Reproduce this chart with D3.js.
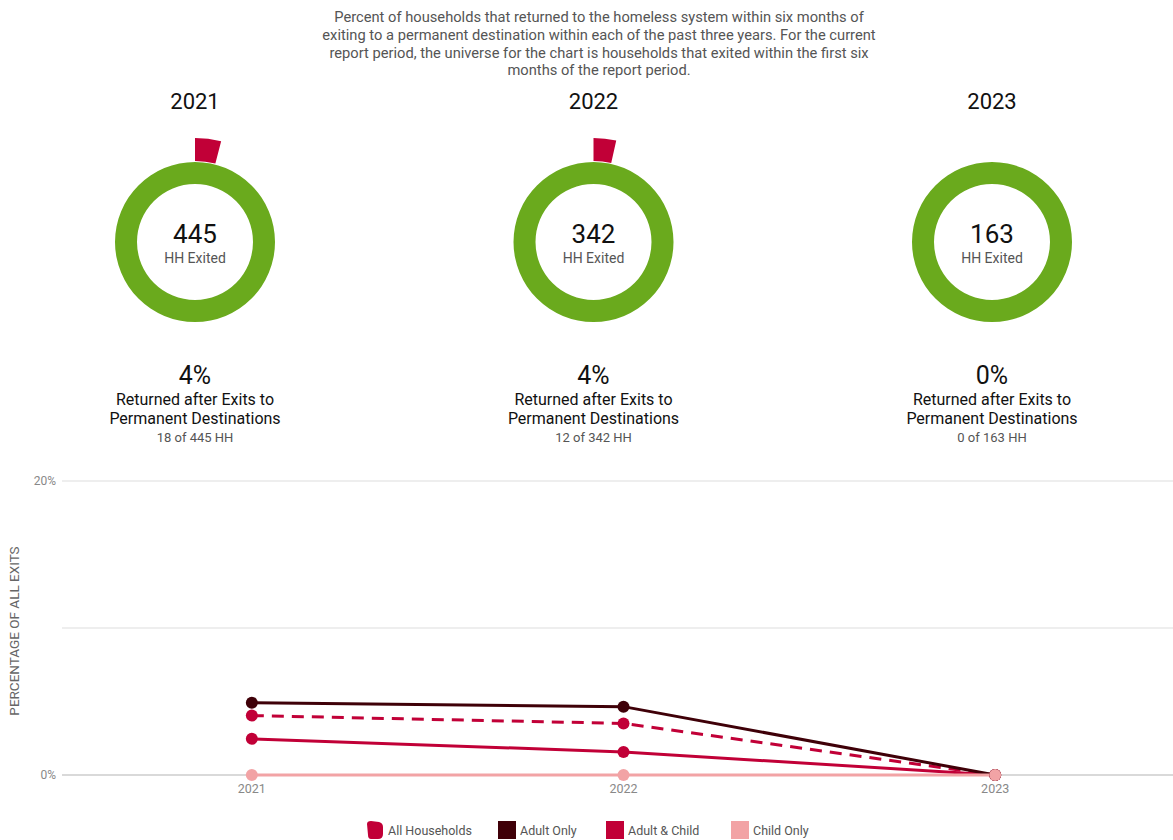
<!DOCTYPE html>
<html>
<head>
<meta charset="utf-8">
<script src="https://cdn.jsdelivr.net/npm/d3@7"></script>
<style>
  body { margin: 0; background: #fff; font-family: Roboto, "Noto Sans", sans-serif; }
  svg { display: block; }
</style>
</head>
<body>
<svg id="chart"></svg>
<script>
// data
var years = ["2021", "2022", "2023"];
var exited = [445, 342, 163];
var returned = [18, 12, 0];

var seriesNames = ["All Households", "Adult Only", "Adult & Child", "Child Only"];
var allHouseholds = [4.04, 3.51, 0];
var adultOnly = [4.92, 4.65, 0];
var adultChild = [2.46, 1.57, 0];
var childOnly = [0, 0, 0];
var yTicks = [0, 10, 20];

var width = 1173;
var height = 840;

var GREEN = "#6aaa1d";
var RED = "#c10037";
var DARK = "#3f0008";
var PINK = "#f2a3a5";

var svg = d3.select('#chart').attr('width', width).attr('height', height);

// description
var desc = [
  "Percent of households that returned to the homeless system within six months of",
  "exiting to a permanent destination within each of the past three years. For the current",
  "report period, the universe for the chart is households that exited within the first six",
  "months of the report period."
];
svg.append('g').selectAll('text').data(desc).enter().append('text')
  .attr('x', 599)
  .attr('y', function(d, i){ return 22 + i * 17.8; })
  .attr('text-anchor', 'middle')
  .attr('font-size', 14.7)
  .attr('fill', '#555')
  .text(function(d){ return d; });

// donuts
var cx = d3.scalePoint().domain(years).range([195, 992]);
var ringArc = d3.arc().innerRadius(58).outerRadius(80).startAngle(0).endAngle(2 * Math.PI);
var popArc = d3.arc().innerRadius(81).outerRadius(104);

svg.append('g').selectAll('g').data(years).enter().append('g')
  .each(function(y, i){
    var g = d3.select(this);
    var x = cx(y);

    g.append('text').attr('x', x).attr('y', 109).attr('text-anchor', 'middle')
      .attr('font-size', 22).attr('fill', '#111').text(y);

    var c = g.append('g').attr('transform', 'translate(' + x + ',242)');
    c.append('path').attr('d', ringArc()).attr('fill', GREEN);
    if (returned[i] > 0) {
      c.append('path')
        .attr('d', popArc({startAngle: 0, endAngle: 2 * Math.PI * returned[i] / exited[i]}))
        .attr('fill', RED);
    }
    c.append('text').attr('y', 1).attr('text-anchor', 'middle')
      .attr('font-size', 26).attr('fill', '#111').text(exited[i]);
    c.append('text').attr('y', 21).attr('text-anchor', 'middle')
      .attr('font-size', 14).attr('fill', '#555').text('HH Exited');

    var pct = Math.round(returned[i] / exited[i] * 100);
    g.append('text').attr('x', x).attr('y', 384).attr('text-anchor', 'middle')
      .attr('font-size', 25).attr('fill', '#111').text(pct + '%');
    g.append('text').attr('x', x).attr('y', 405).attr('text-anchor', 'middle')
      .attr('font-size', 16).attr('fill', '#111').text('Returned after Exits to');
    g.append('text').attr('x', x).attr('y', 424).attr('text-anchor', 'middle')
      .attr('font-size', 16).attr('fill', '#111').text('Permanent Destinations');
    g.append('text').attr('x', x).attr('y', 442).attr('text-anchor', 'middle')
      .attr('font-size', 13).attr('fill', '#555').text(returned[i] + ' of ' + exited[i] + ' HH');
  });

// line chart
var x = d3.scalePoint().domain(years).range([66, 1181]).padding(0.5);
var y = d3.scaleLinear().domain([0, 20]).range([775, 481]);

var grid = svg.append('g');
grid.selectAll('line').data(yTicks).enter().append('line')
  .attr('x1', 62).attr('x2', width)
  .attr('y1', function(d){ return y(d); }).attr('y2', function(d){ return y(d); })
  .attr('stroke', function(d){ return d === 0 ? '#ccc' : '#ddd'; })
  .attr('stroke-width', function(d){ return d === 0 ? 1.5 : 1; });
grid.selectAll('text').data([0, 20]).enter().append('text')
  .attr('x', 56).attr('y', function(d){ return y(d) + 4; })
  .attr('text-anchor', 'end').attr('font-size', 12).attr('fill', '#888')
  .text(function(d){ return d + '%'; });

svg.append('text')
  .attr('transform', 'translate(19,631) rotate(-90)')
  .attr('text-anchor', 'middle').attr('font-size', 13.5).attr('fill', '#666')
  .text('PERCENTAGE OF ALL EXITS');

svg.append('g').selectAll('text').data(years).enter().append('text')
  .attr('x', function(d){ return x(d); }).attr('y', 793)
  .attr('text-anchor', 'middle').attr('font-size', 12.5).attr('fill', '#888')
  .text(function(d){ return d; });

var series = [
  {name: 'Adult & Child', values: adultChild, color: RED, dash: null},
  {name: 'All Households', values: allHouseholds, color: RED, dash: '12,8'},
  {name: 'Adult Only', values: adultOnly, color: DARK, dash: null},
  {name: 'Child Only', values: childOnly, color: PINK, dash: null}
];

var line = d3.line()
  .x(function(d, i){ return x(years[i]); })
  .y(function(d){ return y(d); });

var lines = svg.append('g');
series.forEach(function(s){
  lines.append('path')
    .attr('d', line(s.values))
    .attr('fill', 'none')
    .attr('stroke', s.color)
    .attr('stroke-width', 3)
    .attr('stroke-dasharray', s.dash);
});
series.forEach(function(s){
  lines.selectAll(null).data(s.values).enter().append('circle')
    .attr('cx', function(d, i){ return x(years[i]); })
    .attr('cy', function(d){ return y(d); })
    .attr('r', 6)
    .attr('fill', s.color);
});

// legend
var legendColors = [RED, DARK, RED, PINK];
var legendX = [366, 498, 606, 731];
var legend = svg.append('g');
seriesNames.forEach(function(n, i){
  var g = legend.append('g').attr('transform', 'translate(' + legendX[i] + ',821)');
  if (i === 0) {
    g.append('path')
      .attr('d', 'M1,3 Q1,0 5,0 L13,1 Q17,2 17,6 L17,13 Q17,18 12,18 L5,18 Q2,18 2,14 Z')
      .attr('fill', legendColors[i]);
  } else {
    g.append('rect').attr('width', 18).attr('height', 18).attr('fill', legendColors[i]);
  }
  g.append('text').attr('x', 22).attr('y', 14)
    .attr('font-size', 12.5).attr('fill', '#555').text(n);
});
</script>
</body>
</html>
